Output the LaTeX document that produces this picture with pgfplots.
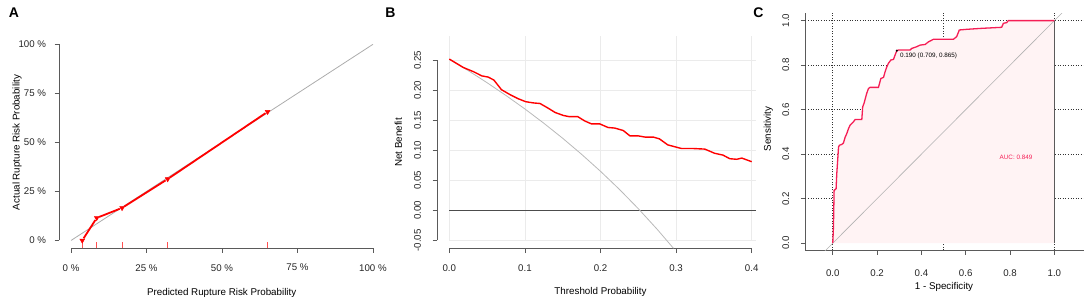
\documentclass[border=0pt]{standalone}
\usepackage{fontspec}
\setmainfont{Liberation Sans}
\usepackage{pgfplots}
\pgfplotsset{compat=1.18}
\definecolor{rocred}{RGB}{245,30,85}
\definecolor{rocfill}{RGB}{255,243,244}
\definecolor{rugred}{RGB}{255,80,80}
\definecolor{spine}{RGB}{90,90,90}
\definecolor{gridB}{RGB}{235,235,235}
\pgfplotsset{
  rstyle/.style={scale only axis, anchor=south west, clip=false,
    axis lines*=left, axis line style={draw=none},
    tick align=outside, major tick length=4.5pt,
    tick style={spine, line width=0.8pt},
    ticklabel style={font=\fontsize{9.7}{11}\selectfont, text=black!85},
  },
  rug/.style={rugred, line width=1.1pt},
}
\begin{document}
\begin{tikzpicture}
\useasboundingbox (0pt,0pt) rectangle (1084pt,299pt);
\fontsize{9.8}{11}\selectfont
% ---------------- Panel A
\begin{axis}[rstyle, at={(59pt,50.7pt)}, width=326pt, height=211.8pt,
  xmin=-4, xmax=104, ymin=-4, ymax=104,
  xticklabel shift=8pt, yticklabel shift=5pt,
  xtick={0,25,50,75,100}, xticklabels={0 \%,25 \%,50 \%,75 \%,100 \%},
  ytick={0,25,50,75,100}, yticklabels={0 \%,25 \%,50 \%,75 \%,100 \%}]
\draw[spine, line width=0.8pt] (axis cs:0,-4) -- (axis cs:100,-4);
\draw[spine, line width=0.8pt] (axis cs:-4,0) -- (axis cs:-4,100);
\addplot[gray!65, line width=0.8pt] coordinates {(0,0) (100,100)};
\addplot[rug] coordinates {(3.7,-4) (3.7,-0.6)};
\addplot[rug] coordinates {(8.5,-4) (8.5,-0.6)};
\addplot[rug] coordinates {(16.9,-4) (16.9,-0.6)};
\addplot[rug] coordinates {(32,-4) (32,-0.6)};
\addplot[rug] coordinates {(65.1,-4) (65.1,-0.6)};
\addplot[red, line width=1.8pt, shorten >=2.5pt, shorten <=2.5pt] coordinates {(3.7,0) (8.5,11.5)};
\addplot[red, line width=1.8pt, shorten >=2.5pt, shorten <=2.5pt] coordinates {(8.5,11.5) (16.9,16.6)};
\addplot[red, line width=1.8pt, shorten >=2.5pt, shorten <=2.5pt] coordinates {(16.9,16.6) (32,31.3)};
\addplot[red, line width=1.8pt, shorten >=2.5pt, shorten <=2.5pt] coordinates {(32,31.3) (65.1,65.6)};
\addplot[only marks, mark=triangle*, mark size=2.8pt, mark options={rotate=180, fill=red, draw=red}]
 coordinates {(3.7,0) (8.5,11.5) (16.9,16.6) (32,31.3) (65.1,65.6)};
\end{axis}
% ---------------- Panel B
\begin{axis}[rstyle, at={(437pt,50.3pt)}, width=327pt, height=212.7pt,
  xmin=-0.0163, xmax=0.4163, ymin=-0.064, ymax=0.2905,
  xticklabel shift=8pt, yticklabel shift=8pt,
  xtick={0,0.1,0.2,0.3,0.4}, xticklabels={0.0,0.1,0.2,0.3,0.4},
  ytick={-0.05,0,0.05,0.1,0.15,0.2,0.25},
  yticklabels={-0.05,0.00,0.05,0.10,0.15,0.20,0.25},
  yticklabel style={rotate=90, anchor=south}]
\foreach \yy in {-0.05,0,0.05,0.1,0.15,0.2,0.25} {
  \edef\tmp{\noexpand\draw[gridB, line width=0.8pt] (axis cs:0,\yy) -- (axis cs:0.406,\yy);}\tmp}
\foreach \xx in {0,0.1,0.2,0.3,0.4} {
  \edef\tmp{\noexpand\draw[gridB, line width=0.8pt] (axis cs:\xx,-0.05) -- (axis cs:\xx,0.29);}\tmp}
\draw[spine, line width=0.8pt] (axis cs:0,-0.064) -- (axis cs:0.4,-0.064);
\draw[spine, line width=0.8pt] (axis cs:-0.0163,-0.05) -- (axis cs:-0.0163,0.25);
\addplot[black!70, line width=0.9pt] coordinates {(0,0) (0.406,0)};
\addplot[gray!55, line width=0.8pt] coordinates {
 (0,0.252)(0.025,0.2328)(0.05,0.2126)(0.075,0.1913)(0.1,0.1689)(0.125,0.1451)
 (0.15,0.1200)(0.175,0.0933)(0.2,0.065)(0.225,0.0349)(0.25,0.0027)(0.275,-0.0317)(0.2965,-0.0633)};
\addplot[red, line width=1.4pt] coordinates {
 (0,0.252)(0.0185,0.238)(0.032,0.231)(0.043,0.224)(0.0515,0.222)(0.059,0.217)(0.069,0.201)
 (0.080,0.193)(0.091,0.186)(0.101,0.181)(0.111,0.179)(0.12,0.178)(0.131,0.170)(0.140,0.163)
 (0.151,0.158)(0.159,0.156)(0.170,0.156)(0.179,0.149)(0.188,0.144)(0.199,0.144)(0.210,0.138)
 (0.219,0.137)(0.230,0.133)(0.239,0.124)(0.250,0.124)(0.259,0.122)(0.27,0.122)(0.278,0.119)
 (0.289,0.109)(0.298,0.106)(0.307,0.103)(0.322,0.103)(0.338,0.102)(0.351,0.095)(0.362,0.092)
 (0.371,0.086)(0.380,0.085)(0.387,0.087)(0.40,0.081)};
\end{axis}
% ---------------- Panel C
\begin{axis}[rstyle, at={(805.3pt,48.7pt)}, width=284.5pt, height=237pt,
  clip=true, axis line style={draw=spine, line width=0.8pt},
  xmin=-0.124, xmax=1.16, ymin=-0.032, ymax=1.033,
  xticklabel shift=11pt, yticklabel shift=8pt,
  xtick={0,0.2,0.4,0.6,0.8,1}, xticklabels={0.0,0.2,0.4,0.6,0.8,1.0},
  ytick={0,0.2,0.4,0.6,0.8,1}, yticklabels={0.0,0.2,0.4,0.6,0.8,1.0},
  yticklabel style={rotate=90, anchor=south}]
\foreach \yy in {0.2,0.4,0.6,0.8,1} {
  \edef\tmp{\noexpand\draw[black!80, line width=0.8pt, dash pattern=on 1pt off 1.6pt] (axis cs:-0.124,\yy) -- (axis cs:1.16,\yy);}\tmp}
\foreach \xx in {0,0.5,1} {
  \edef\tmp{\noexpand\draw[black!80, line width=0.8pt, dash pattern=on 1pt off 1.6pt] (axis cs:\xx,-0.032) -- (axis cs:\xx,1.033);}\tmp}
\addplot[fill=rocfill, draw=none] coordinates {
 (0,0)(0.003,0.072)(0.006,0.237)(0.015,0.245)(0.018,0.312)(0.021,0.357)(0.026,0.432)(0.03,0.44)
 (0.041,0.444)(0.048,0.45)(0.056,0.477)(0.063,0.492)(0.071,0.515)(0.078,0.53)(0.086,0.538)
 (0.093,0.545)(0.101,0.556)(0.131,0.556)(0.135,0.613)(0.141,0.628)(0.149,0.658)(0.153,0.673)
 (0.161,0.695)(0.168,0.70)(0.206,0.70)(0.211,0.718)(0.217,0.74)(0.229,0.745)(0.236,0.77)
 (0.244,0.793)(0.251,0.808)(0.262,0.823)(0.274,0.826)(0.281,0.845)(0.289,0.865)(0.296,0.868)
 (0.349,0.868)(0.356,0.875)(0.379,0.883)(0.394,0.89)(0.417,0.893)(0.432,0.905)(0.454,0.916)
 (0.544,0.916)(0.559,0.928)(0.571,0.958)(0.605,0.961)(0.665,0.965)(0.762,0.970)(0.77,0.988)
 (0.785,0.991)(0.792,1.0)(1,1)(1,0)} -- cycle;
\addplot[gray!60, line width=0.6pt] coordinates {(-0.2,-0.2) (1.2,1.2)};
\addplot[spine, line width=0.9pt] coordinates {(1,0) (1,1)};
\addplot[rocred, line width=1.3pt] coordinates {
 (0,0)(0.003,0.072)(0.006,0.237)(0.015,0.245)(0.018,0.312)(0.021,0.357)(0.026,0.432)(0.03,0.44)
 (0.041,0.444)(0.048,0.45)(0.056,0.477)(0.063,0.492)(0.071,0.515)(0.078,0.53)(0.086,0.538)
 (0.093,0.545)(0.101,0.556)(0.131,0.556)(0.135,0.613)(0.141,0.628)(0.149,0.658)(0.153,0.673)
 (0.161,0.695)(0.168,0.70)(0.206,0.70)(0.211,0.718)(0.217,0.74)(0.229,0.745)(0.236,0.77)
 (0.244,0.793)(0.251,0.808)(0.262,0.823)(0.274,0.826)(0.281,0.845)(0.289,0.865)(0.296,0.868)
 (0.349,0.868)(0.356,0.875)(0.379,0.883)(0.394,0.89)(0.417,0.893)(0.432,0.905)(0.454,0.916)
 (0.544,0.916)(0.559,0.928)(0.571,0.958)(0.605,0.961)(0.665,0.965)(0.762,0.970)(0.77,0.988)
 (0.785,0.991)(0.792,1.0)(1,1)};
\addplot[only marks, mark=*, mark size=0.8pt, black] coordinates {(0.289,0.865)};
\node[anchor=west, inner sep=0pt, font=\fontsize{6.3}{7}\selectfont] at (axis cs:0.3035,0.841) {0.190 (0.709, 0.865)};
\node[inner sep=0pt, text=rocred, font=\fontsize{6.3}{7}\selectfont] at (axis cs:0.827,0.384) {AUC: 0.849};
\end{axis}
% ---------------- labels
\node[font=\fontsize{14}{16}\selectfont\bfseries] at (14pt,286pt) {A};
\node[font=\fontsize{14}{16}\selectfont\bfseries] at (390.5pt,286pt) {B};
\node[font=\fontsize{14}{16}\selectfont\bfseries] at (758.5pt,286pt) {C};
\node at (221.7pt,6.5pt) {Predicted Rupture Risk Probability};
\node at (600.5pt,7pt) {Threshold Probability};
\node at (944pt,11.7pt) {1 - Specificity};
\node[rotate=90] at (17pt,156.5pt) {Actual Rupture Risk Probability};
\node[rotate=90] at (398.3pt,156.5pt) {Net Benefit};
\node[rotate=90] at (768.3pt,170pt) {Sensitivity};
\end{tikzpicture}
\end{document}
